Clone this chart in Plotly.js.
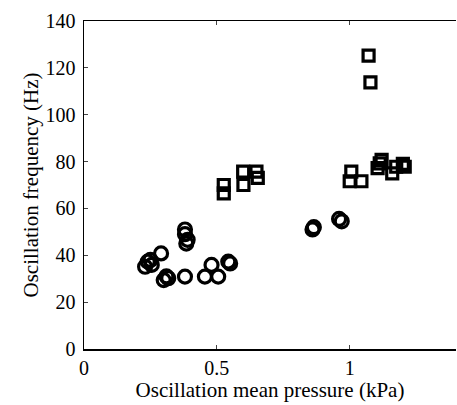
<!DOCTYPE html>
<html><head><meta charset="utf-8">
<script src="https://cdn.plot.ly/plotly-3.0.1.min.js"></script>
<style>html,body{margin:0;padding:0;background:#fff}#g{width:457px;height:405px}</style>
</head><body><div id="g"></div>
<script>
const circleX = [0.23,0.24,0.255,0.25,0.29,0.30,0.317,0.31,0.38,0.38,0.38,0.39,0.385,0.455,0.48,0.505,0.543,0.55,0.86,0.865,0.96,0.97];
const circleY = [35.1,37.3,35.9,38,40.8,29.4,30.2,31,30.9,51,49,46.6,45,30.9,35.9,30.9,37.3,36.5,51,52,55.5,54.5];
const squareX = [0.526,0.526,0.6,0.599,0.649,0.654,1.0,1.006,1.044,1.071,1.078,1.105,1.113,1.12,1.16,1.175,1.207,1.2];
const squareY = [66.4,70,70,75.7,75.7,73,71.6,75.7,71.6,125.2,113.8,77.2,79.2,80.7,75,77.8,77.8,79];
const xTicks = [0,0.5,1];
const xTickText = ['0','0.5','1'];
const yTicks = [0,20,40,60,80,100,120,140];

const font = {family:'Liberation Serif, Times New Roman, serif', color:'#000', size:20};
Plotly.newPlot('g', [
  {x:circleX, y:circleY, mode:'markers', type:'scatter',
   marker:{symbol:'circle-open', size:13, color:'#000', line:{width:3.2,color:'#000'}}},
  {x:squareX, y:squareY, mode:'markers', type:'scatter',
   marker:{symbol:'square-open', size:11, color:'#000', line:{width:3.2,color:'#000'}}}
], {
  width:457, height:405, showlegend:false,
  paper_bgcolor:'#fff', plot_bgcolor:'#fff',
  margin:{l:84, r:1, t:21, b:56},
  font:font,
  xaxis:{range:[0,1.4], tickvals:xTicks, ticktext:xTickText, ticks:'inside', ticklen:4,
         showline:true, linecolor:'#000', linewidth:1.5, mirror:'ticks', showgrid:false, zeroline:false,
         tickfont:{size:20}, title:{text:'Oscillation mean pressure (kPa)', font:{size:21}, standoff:0}},
  yaxis:{range:[0,140], tickvals:yTicks, ticks:'inside', ticklen:4, ticklabelstandoff:3,
         showline:true, linecolor:'#000', linewidth:1.5, mirror:false, showgrid:false, zeroline:false,
         tickfont:{size:20}, title:{text:'Oscillation frequency (Hz)', font:{size:21}, standoff:1}}
}, {displayModeBar:false, staticPlot:true});
</script></body></html>
